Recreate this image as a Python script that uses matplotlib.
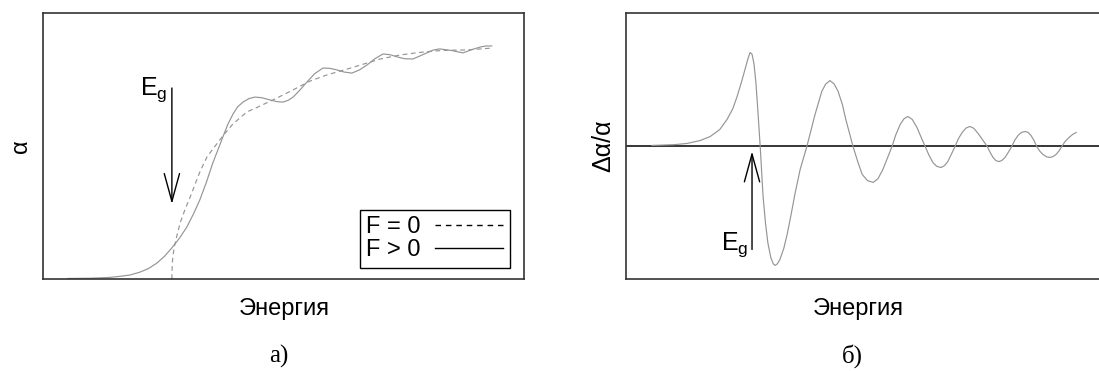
import matplotlib.pyplot as plt
from matplotlib.lines import Line2D

plt.rcParams["font.family"] = ["Liberation Sans", "DejaVu Sans"]
plt.rcParams["mathtext.default"] = "regular"

# Panel a): absorption edge, energy and alpha in arbitrary units (0..100)
e_field = [5.2, 10.0, 13.9, 16.0, 18.1, 20.2, 22.0, 23.7, 25.3, 26.8, 28.4, 29.9,
           31.3, 32.6, 34.0, 35.3, 36.4, 37.4, 38.4, 39.5, 40.5, 41.6, 42.8,
           44.1, 45.6, 47.2, 48.6, 49.9, 51.0, 52.0, 53.4, 54.9, 56.5, 58.2,
           59.6, 61.1, 62.6, 64.2, 65.8, 67.4, 69.0, 70.7, 72.2, 73.6, 75.2,
           76.9, 78.3, 79.8, 81.2, 82.5, 84.9, 87.3, 89.1, 90.9, 92.1, 93.3]
a_field = [0.2, 0.3, 0.6, 1.0, 1.5, 2.6, 4.0, 6.0, 8.6, 11.7, 15.4, 19.5,
           24.5, 29.7, 36.5, 43.6, 48.7, 53.4, 58.0, 62.0, 64.8, 66.5, 67.8,
           68.4, 68.1, 67.3, 66.7, 66.5, 67.2, 68.4, 71.0, 74.1, 77.2, 79.3,
           79.2, 78.6, 77.8, 77.4, 78.6, 80.5, 82.8, 84.6, 84.3, 83.5, 82.8,
           82.7, 83.8, 85.0, 86.1, 86.5, 85.9, 85.0, 86.2, 87.2, 87.6, 87.6]

e_zero = [26.8, 26.82, 26.9, 27.0, 27.3, 27.8, 28.5, 29.5, 30.6, 31.6, 32.6,
          34.1, 35.8, 37.4, 39.5, 42.4, 45.1, 48.6, 52.0, 55.5, 59.0, 63.2,
          67.4, 70.1, 74.2, 77.5, 81.1, 84.5, 88.1, 93.3]
a_zero = [0.0, 3.0, 6.0, 8.5, 12.0, 16.0, 21.0, 26.0, 30.8, 35.5, 40.2,
          45.9, 50.0, 53.8, 58.3, 62.8, 65.0, 68.0, 71.1, 74.4, 76.7, 78.9,
          81.2, 82.7, 84.2, 85.0, 85.7, 86.0, 86.1, 86.8]

eg_a = 26.8

# Panel b): relative change of absorption
e_diff = [5.4, 10.0, 12.7, 15.4, 17.5, 19.5, 21.0, 22.2, 23.1, 24.0, 24.7, 25.3,
          25.8, 26.2, 26.6, 27.0, 27.4, 27.9, 28.5, 29.0, 29.5, 30.1, 30.6,
          31.0, 31.5, 32.0, 32.8, 33.5, 34.3, 35.1, 36.2, 37.6, 39.3, 40.7,
          41.5, 42.4, 43.3, 44.1, 45.0, 45.7, 47.2, 48.2, 49.1, 50.2, 51.4,
          52.4, 53.4, 54.3, 55.3, 56.1, 57.0, 57.8, 58.6, 59.5, 60.5, 61.3,
          62.2, 63.0, 63.8, 64.6, 65.5, 66.2, 66.9, 67.6, 68.4, 69.1, 69.9,
          70.7, 71.5, 72.3, 73.2, 74.1, 75.1, 75.7, 76.3, 76.9, 77.5, 78.1,
          78.8, 79.5, 80.2, 80.8, 81.5, 82.2, 83.0, 83.6, 84.2, 84.8, 85.4,
          86.0, 86.7, 87.4, 88.1, 88.7, 89.4, 90.0, 90.6, 91.3, 92.1, 92.9, 93.6]
d_diff = [0.4, 1.0, 1.9, 4.1, 7.1, 12.4, 19.9, 28.0, 37.2, 48.0, 57.0, 65.0,
          70.3, 69.0, 62.0, 48.0, 27.4, -0.4, -38.0, -58.0, -73.0, -83.8, -88.5,
          -89.8, -88.5, -85.3, -77.0, -66.5, -52.0, -36.5, -17.7, -0.4, 23.7, 41.0,
          46.5, 49.2, 46.5, 41.0, 31.0, 19.9, -0.4, -12.0, -21.4, -26.0, -27.4,
          -24.5, -17.7, -9.5, -0.4, 8.5, 16.2, 20.5, 22.2, 20.0, 13.9, 7.0,
          -0.4, -7.0, -12.4, -15.3, -16.2, -14.8, -11.7, -6.5, -0.4, 5.5, 10.2,
          13.5, 14.7, 13.3, 9.4, 4.8, -0.4, -4.8, -8.6, -11.0, -11.7, -11.0,
          -8.6, -4.6, -0.4, 4.2, 7.9, 10.2, 10.9, 10.2, 7.9, 4.3, -0.4,
          -3.8, -6.4, -8.1, -8.6, -8.1, -6.4, -3.8, -0.4, 3.5, 6.4, 8.8, 10.2]

eg_b = 26.2

fig = plt.figure(figsize=(10.99, 3.71), dpi=100)
ax1 = fig.add_axes([0.0391, 0.248, 0.4377, 0.717])
ax2 = fig.add_axes([0.5696, 0.248, 0.4377, 0.717])

curve = "#959595"
arrow = dict(arrowstyle="->,head_length=2.0,head_width=0.55",
             color="black", lw=1.0, shrinkA=0, shrinkB=0)

# --- a)
ax1.plot(e_zero, a_zero, color=curve, lw=0.85, linestyle=(0, (4, 3)))
ax1.plot(e_field, a_field, color=curve, lw=0.85)
ax1.annotate("", xy=(eg_a, 28.2), xytext=(eg_a, 71.8), arrowprops=arrow)
ax1.text(eg_a - 1.0, 71, "$E_g$", ha="right", va="center", fontsize=18)
ax1.set_xlim(0, 100)
ax1.set_ylim(0, 100)
ax1.set_ylabel("α", fontsize=17, labelpad=8)

handles = [Line2D([], [], color="black", lw=1.0, linestyle=(0, (4, 3.5))),
           Line2D([], [], color="black", lw=1.0)]
leg = ax1.legend(handles, ["F = 0", "F > 0"], loc="lower right",
                 bbox_to_anchor=(0.971, 0.041), borderaxespad=0,
                 markerfirst=False, fancybox=False, framealpha=1,
                 edgecolor="black", fontsize=17, handlelength=2.9,
                 labelspacing=0.05, borderpad=0.28, handletextpad=0.6)
leg.get_frame().set_linewidth(1.0)

# --- б)
ax2.axhline(0, color="black", lw=1.1)
ax2.plot(e_diff, d_diff, color=curve, lw=0.85)
ax2.annotate("", xy=(eg_b, -4.1), xytext=(eg_b, -77.8), arrowprops=arrow)
ax2.text(eg_b - 0.8, -74, "$E_g$", ha="right", va="center", fontsize=18)
ax2.set_xlim(0, 100)
ax2.set_ylim(-100, 100)
ax2.set_ylabel("Δα/α", fontsize=18, labelpad=8)

for ax in (ax1, ax2):
    ax.set_xticks([])
    ax.set_yticks([])
    for s in ax.spines.values():
        s.set_color("#333333")
        s.set_linewidth(1.2)

fig.text(0.259, 0.168, "Энергия", ha="center", va="center", fontsize=17)
fig.text(0.781, 0.168, "Энергия", ha="center", va="center", fontsize=17)
fig.text(0.254, 0.04, "а)", ha="center", va="center", fontsize=18,
         family="Liberation Serif")
fig.text(0.776, 0.04, "б)", ha="center", va="center", fontsize=18,
         family="Liberation Serif")

fig.savefig("out.png", dpi=100)
